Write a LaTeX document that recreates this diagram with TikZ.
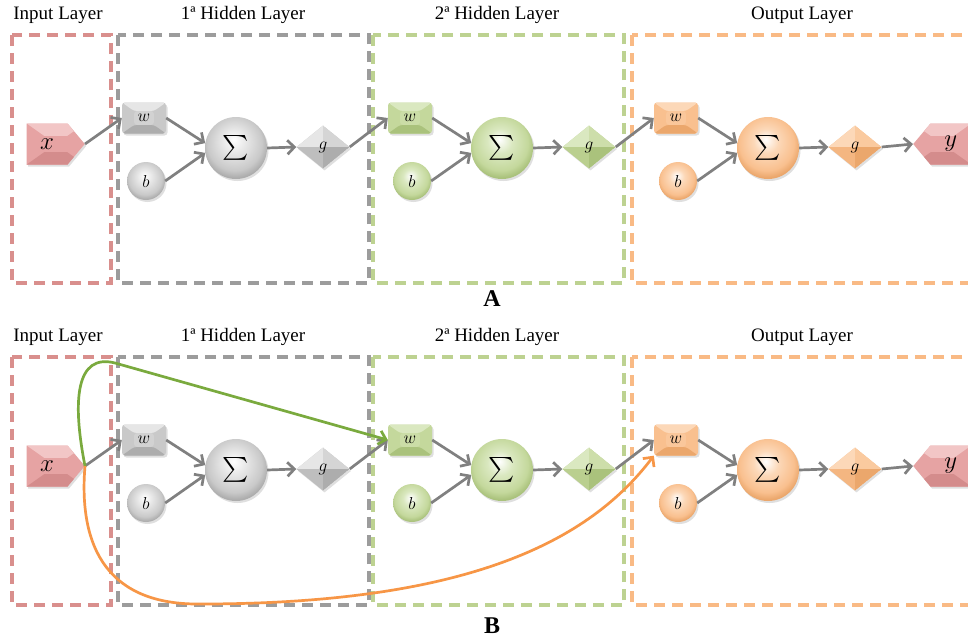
\documentclass[tikz,border=0pt]{standalone}
\usepackage{exscale}
\usepackage{fontspec}
\setmainfont{Liberation Serif}
\usetikzlibrary{arrows.meta,shapes.geometric,shapes.symbols,shadows,calc}

% layer palettes: B = body, L = light facet, D = dark facet
\definecolor{grB}{HTML}{C9C9C9}\definecolor{grL}{HTML}{E6E6E6}\definecolor{grD}{HTML}{ADADAD}
\definecolor{gnB}{HTML}{C4D89C}\definecolor{gnL}{HTML}{DAE8C0}\definecolor{gnD}{HTML}{AAC27C}
\definecolor{orB}{HTML}{F9C08F}\definecolor{orL}{HTML}{FCD8B8}\definecolor{orD}{HTML}{EBA76C}
\definecolor{rdB}{HTML}{E6A3A3}\definecolor{rdL}{HTML}{F2C6C6}\definecolor{rdD}{HTML}{D48C8C}
% frame colours
\definecolor{rdF}{HTML}{D98F8D}\definecolor{grF}{HTML}{9C9C9C}
\definecolor{gnF}{HTML}{BDD291}\definecolor{orF}{HTML}{F9BA85}
\definecolor{arrowgray}{HTML}{808080}
\definecolor{skipgreen}{HTML}{7AAA3E}
\definecolor{skiporange}{HTML}{F79646}

% shaded spheres for the bias and sum nodes
\pgfdeclareradialshading{sphgr}{\pgfpoint{-2bp}{7bp}}{color(0bp)=(white); color(10bp)=(grL); color(22bp)=(grB); color(27bp)=(grD); color(50bp)=(grD)}
\pgfdeclareradialshading{sphgn}{\pgfpoint{-2bp}{7bp}}{color(0bp)=(white); color(10bp)=(gnL); color(22bp)=(gnB); color(27bp)=(gnD); color(50bp)=(gnD)}
\pgfdeclareradialshading{sphor}{\pgfpoint{-2bp}{7bp}}{color(0bp)=(white); color(10bp)=(orL); color(22bp)=(orB); color(27bp)=(orD); color(50bp)=(orD)}

\tikzset{
  frame/.style={line width=3.2pt, dash pattern=on 11pt off 7pt},
  link/.style={draw=arrowgray, line width=2.7pt, -{Straight Barb[length=7pt,width=14pt]}},
  skip/.style={line width=2.7pt, -{Straight Barb[length=7pt,width=14pt]}},
  title/.style={anchor=base, font=\fontsize{19}{22}\selectfont, inner sep=0pt},
  panelmark/.style={anchor=base, font=\fontsize{24}{26}\selectfont\bfseries, inner sep=0pt},
  softshadow/.style={drop shadow={opacity=0.25, shadow xshift=1.5pt, shadow yshift=-2pt}},
  % box with a flat face and four bevels
  bevelbox/.style n args={3}{rectangle, rounded corners=3pt, minimum width=44pt, minimum height=31pt,
    inner sep=0pt, softshadow, fill=#2, font=\fontsize{17}{19}\selectfont,
    path picture={
      \coordinate (pa) at (path picture bounding box.north west);
      \coordinate (pb) at (path picture bounding box.north east);
      \coordinate (pc) at (path picture bounding box.south east);
      \coordinate (pd) at (path picture bounding box.south west);
      \coordinate (pm) at (path picture bounding box.center);
      \fill[#1] (pa) -- (pb) -- ($(pb)!0.55!(pm)$) -- ($(pa)!0.55!(pm)$) -- cycle;
      \fill[#3] (pd) -- (pc) -- ($(pc)!0.55!(pm)$) -- ($(pd)!0.55!(pm)$) -- cycle;
      \fill[#2!70!#1] ($(pa)!0.55!(pm)$) rectangle ($(pc)!0.55!(pm)$);
    }},
  % diamond split into four facets
  facetdiamond/.style n args={3}{diamond, minimum width=53pt, minimum height=43pt, inner sep=0pt,
    softshadow, fill=#2, font=\fontsize{17}{19}\selectfont,
    path picture={
      \coordinate (pn) at (path picture bounding box.north);
      \coordinate (ps) at (path picture bounding box.south);
      \coordinate (pe) at (path picture bounding box.east);
      \coordinate (pw) at (path picture bounding box.west);
      \coordinate (pm) at (path picture bounding box.center);
      \fill[#1] (pn) -- (pw) -- (pm) -- cycle;
      \fill[#2!60!#1] (pn) -- (pe) -- (pm) -- cycle;
      \fill[#2!60!#3] (ps) -- (pw) -- (pm) -- cycle;
      \fill[#3] (ps) -- (pe) -- (pm) -- cycle;
    }},
  % pointed input / output marker
  facetsignal/.style={signal, signal pointer angle=100, minimum width=58pt, minimum height=41pt,
    inner sep=0pt, softshadow, fill=rdB, font=\fontsize{25}{27}\selectfont,
    path picture={
      \coordinate (pa) at (path picture bounding box.north west);
      \coordinate (pb) at (path picture bounding box.north east);
      \coordinate (pc) at (path picture bounding box.south east);
      \coordinate (pd) at (path picture bounding box.south west);
      \coordinate (pm) at (path picture bounding box.center);
      \fill[rdL] (pa) -- (pb) -- ($(pb)!0.6!(pm)$) -- ($(pa)!0.6!(pm)$) -- cycle;
      \fill[rdD] (pd) -- (pc) -- ($(pc)!0.6!(pm)$) -- ($(pd)!0.6!(pm)$) -- cycle;
    }},
  sphere/.style={circle, shading=#1, softshadow, inner sep=0pt},
}

% one complete network; #1 is the suffix of every node name
\newcommand\netpanel[1]{%
  \draw[frame, draw=rdF] (12,35) rectangle (111,283);
  \draw[frame, draw=grF] (118,35) rectangle (369,283);
  \draw[frame, draw=gnF] (373,35) rectangle (624,283);
  \draw[frame, draw=orF] (632,35) rectangle (990,283);
  \node[title] (tin#1)  at (58,19)  {Input Layer};
  \node[title] (th1#1)  at (243,19) {1ª Hidden Layer};
  \node[title] (th2#1)  at (497,19) {2ª Hidden Layer};
  \node[title] (tout#1) at (802,19) {Output Layer};
  \node[facetsignal, signal to=east, anchor=east] (x#1) at (85,144) {$x$};
  \node[facetsignal, signal to=west, anchor=west] (y#1) at (913,144) {$y$};
  \foreach \k/\dx/\c in {1/0/gr, 2/266/gn, 3/532/or}{
    \node[bevelbox={\c L}{\c B}{\c D}] (w\k#1) at (144+\dx,118) {$w$};
    \node[sphere=sph\c, minimum size=38pt, font=\fontsize{17}{19}\selectfont] (b\k#1) at (146+\dx,181) {$b$};
    \node[sphere=sph\c, minimum size=62pt, font=\fontsize{28}{30}\selectfont] (s\k#1) at (236+\dx,148) {$\textstyle\sum$};
    \node[facetdiamond={\c L}{\c B}{\c D}] (g\k#1) at (323+\dx,147) {$g$};
    \draw[link] (w\k#1.east) -- (s\k#1.171);
    \draw[link] (b\k#1.east) -- (s\k#1.189);
    \draw[link] (s\k#1.east) -- (g\k#1.west);
  }
  \draw[link] (x#1.east) -- (w1#1.west);
  \draw[link] (g1#1.east) -- (w2#1.west);
  \draw[link] (g2#1.east) -- (w3#1.west);
  \draw[link] (g3#1.east) -- (y#1.west);
}

\begin{document}
\begin{tikzpicture}[x=1pt,y=-1pt]
\clip (0,0) rectangle (968,640);
\fill[white] (0,0) rectangle (968,640);

% A: plain feed-forward network
\netpanel{A}
\node[panelmark] (markA) at (492,306) {A};

% B: the same network with skip connections from the input
\begin{scope}[shift={(0,322)}]
  \netpanel{B}
\end{scope}
\coordinate (bend) at (115,363);
\coordinate (low) at (200,604);
\draw[skip, draw=skipgreen] (xB.east) .. controls (72,400) and (76,353) .. (bend) -- (w2B.west);
\draw[skip, draw=skiporange] (xB.east) .. controls (78,550) and (110,605) .. (low)
  .. controls (470,604) and (590,540) .. (w3B.south west);
\node[panelmark] (markB) at (492,633) {B};
\end{tikzpicture}
\end{document}
